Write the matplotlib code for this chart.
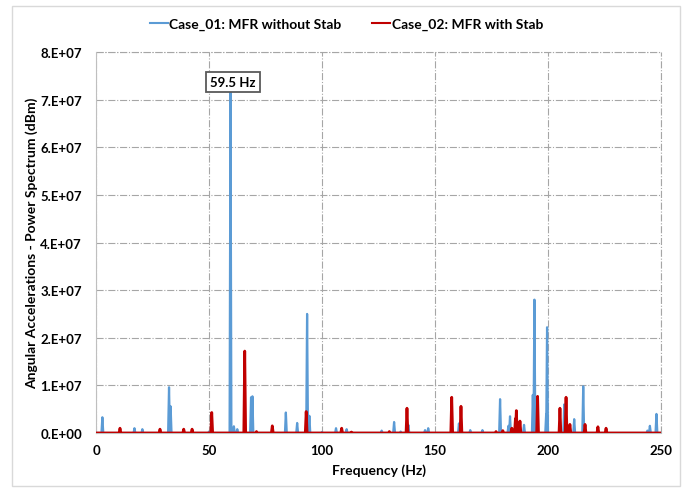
import matplotlib
matplotlib.use("Agg")
import matplotlib.pyplot as plt
from matplotlib.ticker import FuncFormatter, MultipleLocator
from matplotlib.lines import Line2D
import numpy as np

plt.rcParams['font.family'] = ['Lato', 'DejaVu Sans']
plt.rcParams['font.weight'] = 'bold'

# peaks: frequency (Hz) and amplitude
case1_freq = [2.8, 17.0, 20.5, 32.3, 33.0, 50.0, 59.5, 61.0, 62.5, 68.6, 69.2,
              84.0, 89.0, 93.4, 94.4, 100.0, 106.2, 110.9, 126.4, 131.9, 134.8,
              138.2, 145.6, 147.0, 160.6, 165.6, 171.0, 178.8, 182.5, 183.2,
              189.4, 193.3, 194.0, 199.2, 199.6, 207.2, 211.6, 215.6, 244.0,
              245.1, 248.0]
case1_amp = [0.33e7, 0.10e7, 0.08e7, 0.96e7, 0.56e7, 0.03e7, 7.2e7, 0.14e7,
             0.08e7, 0.75e7, 0.77e7, 0.43e7, 0.21e7, 2.5e7, 0.36e7, 0.02e7,
             0.10e7, 0.08e7, 0.05e7, 0.23e7, 0.03e7, 0.17e7, 0.06e7, 0.10e7,
             0.20e7, 0.06e7, 0.06e7, 0.71e7, 0.15e7, 0.35e7, 0.17e7, 0.80e7,
             2.8e7, 0.40e7, 2.22e7, 0.60e7, 0.29e7, 0.98e7, 0.05e7, 0.15e7,
             0.40e7]

case2_freq = [10.6, 28.3, 38.8, 42.5, 51.2, 65.8, 71.0, 78.0, 93.0, 108.7,
              113.0, 129.8, 137.6, 157.4, 161.5, 177.0, 180.0, 184.0, 185.6,
              186.0, 187.6, 195.4, 205.3, 208.0, 209.7, 216.4, 222.1, 225.7]
case2_amp = [0.10e7, 0.08e7, 0.08e7, 0.08e7, 0.43e7, 1.72e7, 0.03e7, 0.15e7,
             0.45e7, 0.10e7, 0.02e7, 0.03e7, 0.52e7, 0.75e7, 0.56e7, 0.03e7,
             0.05e7, 0.10e7, 0.30e7, 0.47e7, 0.25e7, 0.77e7, 0.52e7, 0.75e7,
             0.18e7, 0.18e7, 0.13e7, 0.10e7]

labels = ['Case_01: MFR without Stab', 'Case_02: MFR with Stab']
colors = ['#5b9bd5', '#c00000']


def spectrum(freqs, amps, half=0.4):
    # spike per peak on a zero baseline
    x = [0.0]
    y = [0.0]
    for f, a in sorted(zip(freqs, amps)):
        x += [f - half, f, f + half]
        y += [0.0, a, 0.0]
    x.append(250.0)
    y.append(0.0)
    return np.array(x), np.array(y)


def sci_fmt(v, pos):
    if v == 0:
        return '0.E+00'
    e = int(np.floor(np.log10(abs(v))))
    return '%d.E+%02d' % (round(v / 10 ** e), e)


fig = plt.figure(figsize=(6.86, 4.89), dpi=100)
ax = fig.add_axes([0.140, 0.1125, 0.8235, 0.779])

x1, y1 = spectrum(case1_freq, case1_amp)
x2, y2 = spectrum(case2_freq, case2_amp)
ax.plot(x1, y1, color=colors[0], lw=1.6, zorder=3)
ax.plot(x2, y2, color=colors[1], lw=2.0, zorder=4)

ax.set_xlim(0, 250)
ax.set_ylim(0, 8e7)
ax.xaxis.set_major_locator(MultipleLocator(50))
ax.yaxis.set_major_locator(MultipleLocator(1e7))
ax.yaxis.set_major_formatter(FuncFormatter(sci_fmt))
ax.tick_params(length=0, labelsize=9.5)
ax.tick_params(axis='y', pad=10)
ax.tick_params(axis='x', pad=8)
ax.grid(True, color='#a6a6a6', linestyle='-.', lw=0.8, zorder=0)
for s in ['top', 'right']:
    ax.spines[s].set_visible(False)
ax.spines['left'].set_color('#bfbfbf')
ax.spines['bottom'].set_color('#bfbfbf')
ax.axhline(8e7, color='#a6a6a6', linestyle='-.', lw=0.8, clip_on=False)
ax.axvline(250, color='#a6a6a6', linestyle='-.', lw=0.8, clip_on=False)

ax.set_xlabel('Frequency (Hz)', fontsize=10, fontweight='bold', labelpad=5)
ax.set_ylabel('Angular Accelerations - Power Spectrum (dBm)', fontsize=10,
              fontweight='bold', labelpad=2)

ax.text(60.6, 7.37e7, '59.5 Hz', ha='center', va='center', fontsize=9.5,
        fontweight='bold', zorder=5,
        bbox=dict(boxstyle='square,pad=0.3', fc='white', ec='#595959', lw=1.3))

handles = [Line2D([], [], color=c, lw=1.5) for c in colors]
fig.legend(handles, labels, loc='center', bbox_to_anchor=(0.505, 1 - 25 / 489),
           ncol=2, frameon=False, handlelength=1.3, handletextpad=0.1,
           columnspacing=2.2, prop={'weight': 'bold', 'size': 10})

# chart area border
fig.patches.append(plt.Rectangle((12 / 686, 2 / 489), 668 / 686, 480 / 489,
                                 transform=fig.transFigure, fill=False,
                                 ec='#d9d9d9', lw=1.0))

fig.savefig('out.png', dpi=100)
